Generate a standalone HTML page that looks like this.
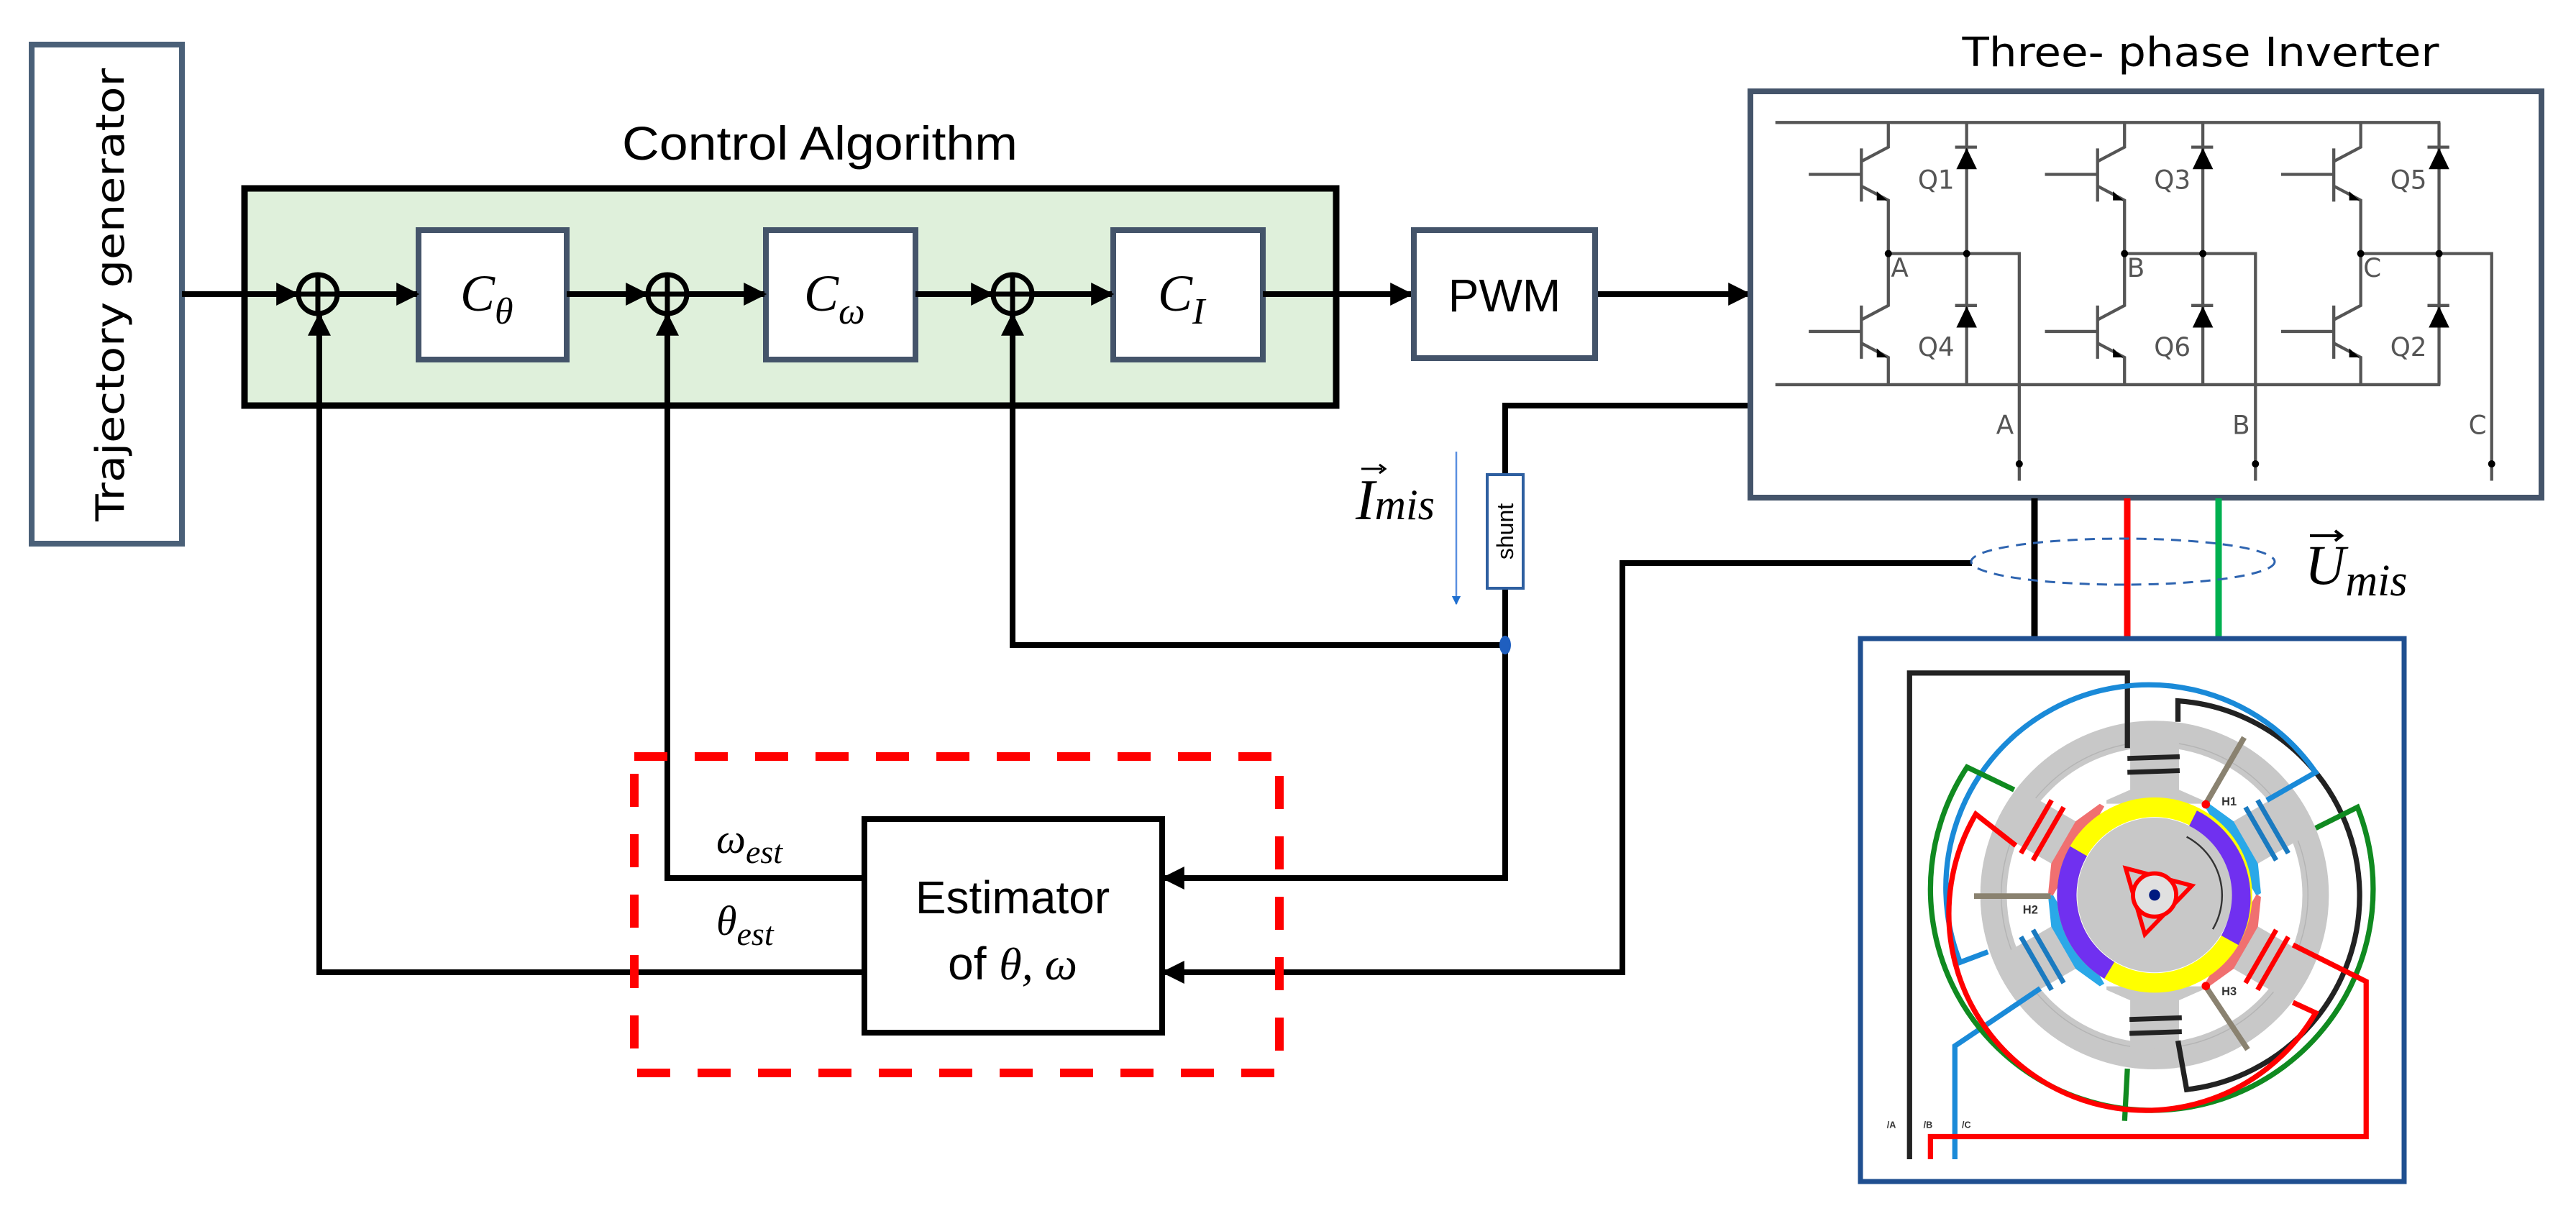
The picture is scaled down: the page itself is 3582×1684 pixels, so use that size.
<!DOCTYPE html>
<html><head><meta charset="utf-8"><style>
html,body{margin:0;padding:0;background:#fff}
svg{display:block}
</style></head><body>
<svg width="3582" height="1684" viewBox="0 0 3582 1684" xmlns="http://www.w3.org/2000/svg">
<defs>
<marker id="ah" viewBox="0 0 10 10" refX="9" refY="5" markerWidth="4" markerHeight="4" orient="auto" markerUnits="strokeWidth">
<path d="M0,0 L10,5 L0,10 z" fill="#000"/></marker>
<marker id="bh" viewBox="0 0 10 10" refX="9" refY="5" markerWidth="5" markerHeight="5" orient="auto" markerUnits="strokeWidth">
<path d="M0,0 L10,5 L0,10 z" fill="#1f6fd0"/></marker>
</defs>

<!-- Trajectory generator -->
<rect x="44" y="62" width="209" height="694" fill="#fff" stroke="#4a6078" stroke-width="8"/>
<text transform="translate(172,410) rotate(-90)" text-anchor="middle" font-family="DejaVu Sans, sans-serif" font-size="54" textLength="630" lengthAdjust="spacingAndGlyphs">Trajectory generator</text>

<!-- Control Algorithm -->
<text x="1140" y="222" text-anchor="middle" font-family="Liberation Sans Narrow, Liberation Sans, sans-serif" font-size="66" textLength="550" lengthAdjust="spacingAndGlyphs">Control Algorithm</text>
<rect x="340" y="262" width="1518" height="302" fill="#dff0db" stroke="#000" stroke-width="9"/>

<!-- controller boxes -->
<rect x="582" y="320" width="206" height="180" fill="#fff" stroke="#44546a" stroke-width="8"/>
<rect x="1065" y="320" width="208" height="180" fill="#fff" stroke="#44546a" stroke-width="8"/>
<rect x="1548" y="320" width="208" height="180" fill="#fff" stroke="#44546a" stroke-width="8"/>
<g font-family="Liberation Serif, serif" font-style="italic">
<text x="640" y="432" font-size="72">C<tspan font-size="52" dy="18">θ</tspan></text>
<text x="1118" y="432" font-size="72">C<tspan font-size="52" dy="18">ω</tspan></text>
<text x="1610" y="432" font-size="72">C<tspan font-size="52" dy="18">I</tspan></text>
</g>

<!-- summers -->
<g fill="none" stroke="#000" stroke-width="7">
<circle cx="442" cy="409" r="27"/><line x1="415" y1="409" x2="469" y2="409"/><line x1="442" y1="382" x2="442" y2="436"/>
<circle cx="928" cy="409" r="27"/><line x1="901" y1="409" x2="955" y2="409"/><line x1="928" y1="382" x2="928" y2="436"/>
<circle cx="1408" cy="409" r="27"/><line x1="1381" y1="409" x2="1435" y2="409"/><line x1="1408" y1="382" x2="1408" y2="436"/>
</g>

<!-- main signal path -->
<g stroke="#000" stroke-width="8" fill="none">
<line x1="253" y1="409" x2="413" y2="409" marker-end="url(#ah)"/>
<line x1="469" y1="409" x2="580" y2="409" marker-end="url(#ah)"/>
<line x1="788" y1="409" x2="899" y2="409" marker-end="url(#ah)"/>
<line x1="955" y1="409" x2="1063" y2="409" marker-end="url(#ah)"/>
<line x1="1273" y1="409" x2="1379" y2="409" marker-end="url(#ah)"/>
<line x1="1435" y1="409" x2="1546" y2="409" marker-end="url(#ah)"/>
<line x1="1756" y1="409" x2="1962" y2="409" marker-end="url(#ah)"/>
<line x1="2220" y1="409" x2="2432" y2="409" marker-end="url(#ah)"/>
<polyline points="1200,1352 444,1352 444,438" marker-end="url(#ah)"/>
<polyline points="1200,1221 928,1221 928,438" marker-end="url(#ah)"/>
<polyline points="2093,897 1408,897 1408,438" marker-end="url(#ah)"/>
<polyline points="2434,564 2093,564 2093,659"/>
<polyline points="2093,819 2093,1221 1618,1221" marker-end="url(#ah)"/>
<polyline points="2742,783 2256,783 2256,1352 1618,1352" marker-end="url(#ah)"/>
</g>
<ellipse cx="2093" cy="897" rx="8" ry="13" fill="#1f5fc0"/>

<!-- PWM -->
<rect x="1966" y="320" width="252" height="178" fill="#fff" stroke="#44546a" stroke-width="8"/>
<text x="2092" y="433" text-anchor="middle" font-family="Liberation Sans, sans-serif" font-size="64">PWM</text>

<!-- shunt -->
<rect x="2068" y="660" width="50" height="158" fill="#fff" stroke="#2e5fa0" stroke-width="4"/>
<text transform="translate(2104,739) rotate(-90)" text-anchor="middle" font-family="Liberation Sans, sans-serif" font-size="32">shunt</text>
<line x1="2025" y1="628" x2="2025" y2="840" stroke="#5a8fe0" stroke-width="2.5" marker-end="url(#bh)"/>

<g font-family="Liberation Serif, serif" font-style="italic">
<text x="1885" y="722" font-size="80">I<tspan font-size="60">mis</tspan></text>
<line x1="1893" y1="652" x2="1922" y2="652" stroke="#000" stroke-width="3"/><path d="M1918,646 L1926,652 L1918,658" fill="none" stroke="#000" stroke-width="3"/>
<text x="3205" y="812" font-size="78">U<tspan font-size="62" dy="16">mis</tspan></text>
<line x1="3212" y1="745" x2="3253" y2="745" stroke="#000" stroke-width="4"/><path d="M3247,738 L3256,745 L3247,752" fill="none" stroke="#000" stroke-width="4"/>
</g>

<!-- Estimator -->
<rect x="882" y="1052" width="897" height="440" fill="none" stroke="#ff0000" stroke-width="12" stroke-dasharray="46,38"/>
<rect x="1202" y="1139" width="414" height="297" fill="#fff" stroke="#000" stroke-width="8"/>
<g font-family="Liberation Sans Narrow, Liberation Sans, sans-serif" font-size="64" text-anchor="middle">
<text x="1408" y="1270">Estimator</text>
<text x="1408" y="1362">of <tspan font-family="Liberation Serif, serif" font-style="italic">θ, ω</tspan></text>
</g>
<g font-family="Liberation Serif, serif" font-style="italic" font-size="58">
<text x="996" y="1186">ω<tspan font-size="46" dy="14">est</tspan></text>
<text x="996" y="1300">θ<tspan font-size="46" dy="14">est</tspan></text>
</g>

<!-- Inverter -->
<text x="3060" y="92" text-anchor="middle" font-family="DejaVu Sans, sans-serif" font-size="56" textLength="663" lengthAdjust="spacingAndGlyphs">Three- phase Inverter</text>
<rect x="2434" y="127" width="1100" height="565" fill="#fff" stroke="#44546a" stroke-width="8"/>
<g transform="translate(2433,127) scale(0.357,0.361)" stroke="#555" stroke-width="12" fill="none">
<line x1="100" y1="120" x2="2690" y2="120"/>
<line x1="100" y1="1130" x2="2690" y2="1130"/>
<g id="leg">
<polyline points="540,120 540,215 435,270"/>
<line x1="435" y1="220" x2="435" y2="425"/>
<line x1="230" y1="320" x2="435" y2="320"/>
<polyline points="435,365 540,420 540,825 435,880"/>
<line x1="435" y1="825" x2="435" y2="1030"/>
<line x1="230" y1="925" x2="435" y2="925"/>
<polyline points="435,970 540,1025 540,1130"/>
<path d="M495,385 L535,420 L495,420 z" fill="#000" stroke="none"/>
<path d="M495,990 L535,1025 L495,1025 z" fill="#000" stroke="none"/>
<line x1="845" y1="120" x2="845" y2="1130"/>
<line x1="800" y1="215" x2="885" y2="215"/>
<path d="M845,218 L885,300 L805,300 z" fill="#000" stroke="none"/>
<line x1="800" y1="825" x2="885" y2="825"/>
<path d="M845,828 L885,910 L805,910 z" fill="#000" stroke="none"/>
<polyline points="540,625 1050,625 1050,1500"/>
<circle cx="540" cy="625" r="14" fill="#000" stroke="none"/>
<circle cx="845" cy="625" r="14" fill="#000" stroke="none"/>
<circle cx="1050" cy="1435" r="14" fill="#000" stroke="none"/>
</g>
<use href="#leg" x="920"/>
<use href="#leg" x="1840"/>
<g fill="#555" stroke="none" font-family="DejaVu Sans, sans-serif" font-size="100">
<text x="655" y="375">Q1</text><text x="1575" y="375">Q3</text><text x="2495" y="375">Q5</text>
<text x="655" y="1020">Q4</text><text x="1575" y="1020">Q6</text><text x="2495" y="1020">Q2</text>
<text x="550" y="715">A</text><text x="1470" y="715">B</text><text x="2390" y="715">C</text>
<text x="960" y="1320">A</text><text x="1880" y="1320">B</text><text x="2800" y="1320">C</text>
</g>
</g>

<!-- phase wires -->
<line x1="2829" y1="693" x2="2829" y2="887" stroke="#000" stroke-width="9"/>
<line x1="2958" y1="693" x2="2958" y2="887" stroke="#ff0000" stroke-width="9"/>
<line x1="3085" y1="693" x2="3085" y2="887" stroke="#00b050" stroke-width="9"/>
<ellipse cx="2952" cy="781" rx="211" ry="32" fill="none" stroke="#2e64b0" stroke-width="3" stroke-dasharray="14,10"/>

<!-- Motor -->
<rect x="2587" y="888" width="756" height="755" fill="#fff" stroke="#1f4f90" stroke-width="7"/>
<svg x="2585" y="885" width="760" height="760" viewBox="0 0 1568 1568">
<circle cx="848" cy="742" r="462" fill="none" stroke="#c8c8c8" stroke-width="76"/>
<circle cx="848" cy="742" r="440" fill="none" stroke="#b4b4b4" stroke-width="3"/>
<g>
<rect x="778" y="300" width="140" height="150" fill="#c8c8c8"/>
<path d="M778,440 L710,470 L710,480 L986,480 L986,470 L918,440 z" fill="#c8c8c8"/>
<g stroke="#222" stroke-width="14"><line x1="770" y1="350" x2="920" y2="345"/><line x1="770" y1="390" x2="920" y2="385"/></g>
</g>
<g transform="rotate(180 848 742)"><rect x="778" y="300" width="140" height="150" fill="#c8c8c8"/><path d="M778,440 L710,470 L710,480 L986,480 L986,470 L918,440 z" fill="#c8c8c8"/><g stroke="#222" stroke-width="14"><line x1="770" y1="350" x2="920" y2="345"/><line x1="770" y1="390" x2="920" y2="385"/></g></g>
<g transform="rotate(60 848 742)"><rect x="778" y="300" width="140" height="150" fill="#c8c8c8"/><path d="M778,440 L700,475 L700,490 L996,490 L996,475 L918,440 z" fill="#2aa8e8"/><g stroke="#1a7ac0" stroke-width="14"><line x1="760" y1="350" x2="936" y2="350"/><line x1="760" y1="390" x2="936" y2="390"/></g></g>
<g transform="rotate(240 848 742)"><rect x="778" y="300" width="140" height="150" fill="#c8c8c8"/><path d="M778,440 L700,475 L700,490 L996,490 L996,475 L918,440 z" fill="#2aa8e8"/><g stroke="#1a7ac0" stroke-width="14"><line x1="760" y1="350" x2="936" y2="350"/><line x1="760" y1="390" x2="936" y2="390"/></g></g>
<g transform="rotate(-60 848 742)"><rect x="778" y="300" width="140" height="150" fill="#c8c8c8"/><path d="M778,440 L700,475 L700,490 L996,490 L996,475 L918,440 z" fill="#f07070"/><g stroke="#ff0000" stroke-width="14"><line x1="760" y1="350" x2="936" y2="350"/><line x1="760" y1="390" x2="936" y2="390"/></g></g>
<g transform="rotate(120 848 742)"><rect x="778" y="300" width="140" height="150" fill="#c8c8c8"/><path d="M778,440 L700,475 L700,490 L996,490 L996,475 L918,440 z" fill="#f07070"/><g stroke="#ff0000" stroke-width="14"><line x1="760" y1="350" x2="936" y2="350"/><line x1="760" y1="390" x2="936" y2="390"/></g></g>
<circle cx="848" cy="742" r="252" fill="none" stroke="#ffff00" stroke-width="56"/>
<path d="M 956.8 524.6 A 252 252 0 0 1 1064 871.8" fill="none" stroke="#7030f0" stroke-width="56"/>
<path d="M 718.2 958 A 252 252 0 0 1 629.8 616" fill="none" stroke="#7030f0" stroke-width="56"/>
<circle cx="848" cy="742" r="222" fill="#c8c8c8"/>
<path d="M940,575 A190,190 0 0 1 1015,840" fill="none" stroke="#333" stroke-width="5"/>
<path d="M765,665 L955,715 L820,855 z" fill="none" stroke="#ff0000" stroke-width="12"/>
<circle cx="848" cy="742" r="62" fill="#e0e0e0" stroke="#ff0000" stroke-width="12"/>
<circle cx="848" cy="742" r="16" fill="#001a80"/>
<g stroke="#8a8270" stroke-width="16">
<line x1="1105" y1="290" x2="995" y2="480"/>
<line x1="330" y1="745" x2="550" y2="745"/>
<line x1="995" y1="1005" x2="1115" y2="1185"/>
</g>
<circle cx="995" cy="482" r="12" fill="#ff0000"/><circle cx="995" cy="1003" r="12" fill="#ff0000"/>
<g font-family="Liberation Sans, sans-serif" font-weight="bold" font-size="34" fill="#333">
<text x="1040" y="485">H1</text><text x="470" y="795">H2</text><text x="1040" y="1030">H3</text>
<text x="80" y="1410" font-size="26">/A</text><text x="185" y="1410" font-size="26">/B</text><text x="295" y="1410" font-size="26">/C</text>
</g>
<g fill="none" stroke-width="15">
<polyline points="145,1500 145,105 770,105 770,320" stroke="#222"/>
<path d="M915,245 L915,185 A560,560 0 0 1 940,1300 L915,1160" stroke="#222"/>
<path d="M1170,470 L1310,390 A582,582 0 0 0 290,935 L370,905" stroke="#1a8ad8"/>
<polyline points="520,1010 275,1175 275,1500" stroke="#1a8ad8"/>
<path d="M445,440 L310,375 A635,635 0 1 0 1430,490 L1310,550" stroke="#108a20"/>
<line x1="770" y1="1240" x2="762" y2="1390" stroke="#108a20"/>
<path d="M450,600 L335,510 A530,530 0 0 0 1310,1080 L1245,1050" stroke="#ff0000"/>
<polyline points="1245,885 1455,990 1455,1435 205,1435 205,1500" stroke="#ff0000"/>
</g>
</svg>
</svg>
</body></html>
